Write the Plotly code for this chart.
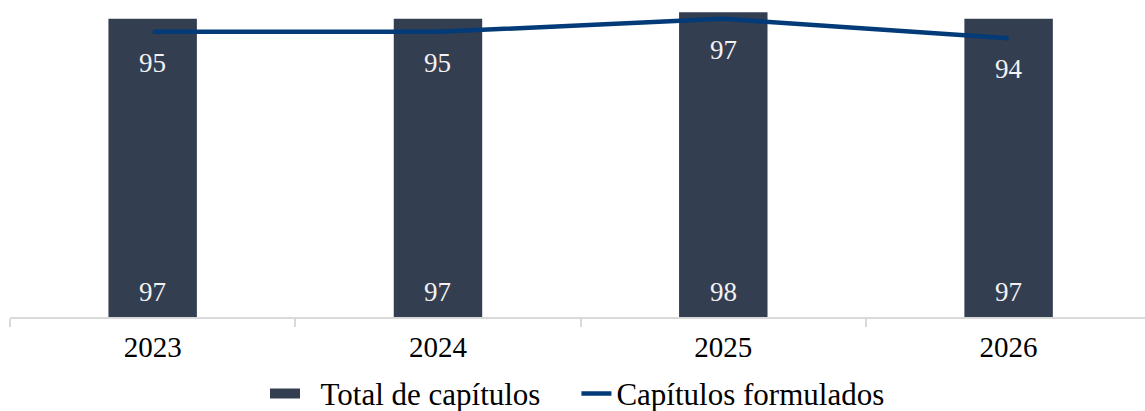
import plotly.graph_objects as go

years = ["2023", "2024", "2025", "2026"]
total_capitulos = [97, 97, 98, 97]
capitulos_formulados = [95, 95, 97, 94]

BAR_COLOR = "#343e51"
LINE_COLOR = "#033a78"
FONT = "Liberation Serif"
y_range = [51.1, 99.9]

fig = go.Figure()
fig.add_trace(go.Bar(
    x=years, y=total_capitulos, name="Total de capítulos",
    marker=dict(color=BAR_COLOR, line=dict(width=0)),
    width=0.31, base=0, showlegend=False,
))
fig.add_trace(go.Scatter(
    x=[None], y=[None], name="\u2002Total de capítulos\u2003", mode="lines",
    line=dict(color=BAR_COLOR, width=16), showlegend=True,
))
fig.add_trace(go.Scatter(
    x=years, y=capitulos_formulados, name="Capítulos formulados",
    mode="lines", line=dict(color=LINE_COLOR, width=4.5),
))

for i, v in enumerate(total_capitulos):
    fig.add_annotation(x=i, y=0, xref="x", yref="paper", text=str(v),
                       showarrow=False, yanchor="middle", yshift=25,
                       font=dict(family=FONT, size=27, color="#f2f2f2"))
for i, v in enumerate(capitulos_formulados):
    fig.add_annotation(x=i, y=v, xref="x", yref="y", text=str(v),
                       showarrow=False, yanchor="middle", yshift=-31,
                       font=dict(family=FONT, size=27, color="#f2f2f2"))

fig.update_layout(
    width=1145, height=411,
    margin=dict(l=10, r=0, t=0, b=94),
    plot_bgcolor="white", paper_bgcolor="white",
    font=dict(family=FONT, size=28, color="#000000"),
    showlegend=True,
    legend=dict(orientation="h", x=0.5, xanchor="center",
                yref="container", y=0.042, yanchor="middle",
                font=dict(family=FONT, size=31, color="#000000"),
                tracegroupgap=0, bgcolor="rgba(0,0,0,0)"),
    xaxis=dict(type="category", range=[-0.5, 3.478], showgrid=False,
               showline=True, linecolor="#d9d9d9", linewidth=2,
               ticks="outside", tickson="boundaries", ticklen=8,
               tickcolor="#d9d9d9", tickwidth=2, ticklabelstandoff=3,
               tickfont=dict(family=FONT, size=29, color="#000000")),
    yaxis=dict(range=y_range, showgrid=False, zeroline=False,
               showline=False, showticklabels=False, ticks=""),
)

fig.write_html("out.html", config={"displayModeBar": False},
               post_script="document.body.style.margin='0';document.body.style.padding='0';")
